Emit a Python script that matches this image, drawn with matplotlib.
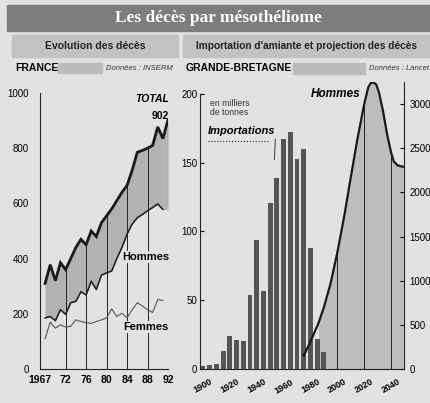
import numpy as np
import matplotlib.pyplot as plt
from matplotlib.patches import Rectangle

# France (INSERM): deaths per year
fr_years = np.arange(1968, 1993)
fr_total = [310, 378, 320, 385, 360, 400, 440, 470, 450, 500, 480, 530, 555,
            580, 610, 640, 665, 720, 785, 792, 800, 810, 877, 835, 902]
sex_years = np.arange(1968, 1992)
fr_hommes = [185, 190, 175, 215, 198, 240, 245, 280, 268, 318, 288, 340, 348,
             355, 400, 440, 488, 525, 548, 560, 573, 585, 598, 578]
fr_femmes = [110, 170, 148, 160, 152, 155, 178, 172, 168, 165, 172, 178, 185,
             218, 190, 202, 185, 215, 240, 228, 215, 205, 252, 248]
fr_ticks = [1967, 1972, 1976, 1980, 1984, 1988, 1992]
fr_ticklabels = ["1967", "72", "76", "80", "84", "88", "92"]
fr_yticks = [0, 200, 400, 600, 800, 1000]

# Great Britain (Lancet): asbestos imports (thousand tonnes) and projected male deaths
imp_years = np.arange(1900, 1995, 5)
imp_tonnes = [2, 3, 3.5, 13, 24, 21, 20, 54, 94, 57, 121, 139, 167, 172, 153,
              160, 88, 22, 12]
proj_years = [1975, 1980, 1986, 1990, 1995, 2000, 2005, 2010, 2015, 2020, 2023,
              2025, 2027, 2029, 2031, 2034, 2037, 2040, 2042, 2045, 2049]
proj_hommes = [150, 310, 520, 700, 970, 1320, 1720, 2170, 2610, 3000, 3190,
               3240, 3245, 3220, 3130, 2920, 2660, 2450, 2350, 2305, 2290]
gb_xticks = [1900, 1920, 1940, 1960, 1980, 2000, 2020, 2040]
gb_yticks = [0, 50, 100, 150, 200]
gb_y2ticks = [0, 500, 1000, 1500, 2000, 2500, 3000]

BG = "#e2e2e2"
SANS = ["Liberation Sans", "DejaVu Sans"]
W, H = 430, 403


def fx(x):
    return x / W


def fy(y):
    return 1 - y / H


fig = plt.figure(figsize=(4.3, 4.03), dpi=100, facecolor=BG)

# header bands
fig.patches.append(Rectangle((fx(7), fy(31)), fx(423), 26 / H, transform=fig.transFigure,
                             color="#7d7d7d", zorder=0))
fig.patches.append(Rectangle((fx(12), fy(57)), fx(166), 22 / H, transform=fig.transFigure,
                             color="#c2c2c2", zorder=0))
fig.patches.append(Rectangle((fx(183), fy(57)), fx(247), 22 / H, transform=fig.transFigure,
                             color="#c2c2c2", zorder=0))
fig.patches.append(Rectangle((fx(58), fy(73)), fx(44), 10 / H, transform=fig.transFigure,
                             color="#bcbcbc", zorder=0))
fig.patches.append(Rectangle((fx(293), fy(74)), fx(72), 11 / H, transform=fig.transFigure,
                             color="#bcbcbc", zorder=0))

fig.text(fx(218), fy(18), "Les décès par mésothéliome", color="white", fontsize=12.5,
         fontweight="bold", family=["Liberation Serif", "DejaVu Serif"], ha="center", va="center")
fig.text(fx(95), fy(46), "Evolution des décès", fontsize=7.5, fontweight="bold",
         family=SANS, ha="center", va="center", color="#222222")
fig.text(fx(307), fy(46), "Importation d'amiante et projection des décès", fontsize=7.3,
         fontweight="bold", family=SANS, ha="center", va="center", color="#222222")
fig.text(fx(15), fy(68), "FRANCE", fontsize=7.5, fontweight="bold", family=SANS,
         ha="left", va="center")
fig.text(fx(173), fy(68), "Données : INSERM", fontsize=5.5, style="italic", family=SANS,
         ha="right", va="center", color="#333333")
fig.text(fx(186), fy(68), "GRANDE-BRETAGNE", fontsize=7.5, fontweight="bold", family=SANS,
         ha="left", va="center")
fig.text(fx(429), fy(68), "Données : Lancet", fontsize=5.5, style="italic", family=SANS,
         ha="right", va="center", color="#333333")

# ---- France ----
ax = fig.add_axes([fx(40), fy(369), 128 / W, (369 - 93) / H])
ax.set_facecolor("none")
ax.set_xlim(1967, 1992)
ax.set_ylim(0, 1000)
ax.fill_between(sex_years, fr_total[:len(sex_years)], fr_hommes, color="#b2b2b2", lw=0, zorder=1)
ax.fill_between(fr_years[-2:], fr_total[-2:], fr_hommes[-1], color="#b2b2b2", lw=0, zorder=1)
ax.vlines(fr_ticks[1:], 0, np.interp(fr_ticks[1:], fr_years, fr_total), color="#222222",
          lw=0.7, zorder=2)
ax.plot(fr_years, fr_total, color="#1a1a1a", lw=2.0, zorder=4, solid_joinstyle="miter")
ax.plot(sex_years, fr_hommes, color="#1a1a1a", lw=1.1, zorder=4)
ax.plot(sex_years, fr_femmes, color="#555555", lw=0.8, zorder=4)
for s in ["top", "right"]:
    ax.spines[s].set_visible(False)
ax.spines["left"].set_color("#222222")
ax.spines["bottom"].set_color("#222222")
ax.set_xticks(fr_ticks)
ax.set_xticklabels(fr_ticklabels, fontsize=7.5, fontweight="bold", family=SANS)
ax.set_yticks(fr_yticks)
ax.set_yticklabels([str(v) for v in fr_yticks], fontsize=7, family=SANS)
ax.tick_params(axis="both", length=0)
ax.tick_params(axis="x", pad=4)
ax.tick_params(axis="y", pad=8)

ax.text(1992.2, 978, "TOTAL", fontsize=7.5, fontweight="bold", style="italic", family=SANS,
        ha="right", va="center", clip_on=False)
ax.text(1992.2, 917, str(fr_total[-1]), fontsize=7.5, fontweight="bold", family=SANS,
        ha="right", va="center", clip_on=False)
ax.text(1987.6, 406, "Hommes", fontsize=8, fontweight="bold", family=SANS, ha="center",
        va="center", zorder=5, bbox=dict(facecolor=BG, edgecolor="none", pad=0.6))
ax.text(1987.7, 152, "Femmes", fontsize=8, fontweight="bold", family=SANS, ha="center",
        va="center", zorder=5, bbox=dict(facecolor=BG, edgecolor="none", pad=0.6))

# ---- Great Britain ----
gx = fig.add_axes([fx(200), fy(369), 204 / W, (369 - 82) / H])
gx.set_facecolor("none")
gx.set_xlim(1897.8, 2049.6)
gx.set_ylim(0, 208.7)
g2 = gx.twinx()
g2.set_ylim(0, 3250)

# projected deaths area sits behind the import bars
sel = np.array(proj_years) >= 1986
gx.fill_between(np.array(proj_years)[sel], np.array(proj_hommes)[sel], 0, color="#bdbdbd",
                lw=0, zorder=1, transform=g2.transData)
gx.bar(imp_years, imp_tonnes, width=3.6, color="#555555", zorder=3)
for s in ["top", "right"]:
    gx.spines[s].set_visible(False)
gx.spines["left"].set_bounds(0, 200)
gx.spines["left"].set_color("#222222")
gx.spines["bottom"].set_color("#222222")
gx.set_yticks(gb_yticks)
gx.set_yticklabels([str(v) for v in gb_yticks], fontsize=7, family=SANS)
gx.tick_params(axis="y", direction="in", length=3, pad=2)
gx.set_xticks(gb_xticks)
gx.set_xticklabels([str(v) for v in gb_xticks], fontsize=6.5, fontweight="bold",
                   family=SANS, rotation=30, ha="center")
gx.tick_params(axis="x", length=0, pad=6)

gx.text(1905.3, 190, "en milliers\nde tonnes", fontsize=6.2, family=SANS, ha="left",
        va="center", linespacing=1.0, color="#333333")
gx.annotate("Importations", xy=(1953.2, 152), xytext=(1903.7, 173), fontsize=8,
            fontweight="bold", style="italic", family=SANS, ha="left", va="center",
            arrowprops=dict(arrowstyle="-", lw=0.6, color="#222222",
                            shrinkA=0, shrinkB=0, relpos=(1.0, 0.0)))
gx.plot([1903.7, 1949.9], [166, 166], ls=":", lw=0.8, color="#222222")

g2.vlines([2000, 2020, 2040], 0, np.interp([2000, 2020, 2040], proj_years, proj_hommes),
          color="#222222", lw=0.7, zorder=2)
g2.plot(proj_years, proj_hommes, color="#1a1a1a", lw=1.6, zorder=5)
for s in ["top", "left", "bottom"]:
    g2.spines[s].set_visible(False)
g2.spines["right"].set_color("#222222")
g2.set_yticks(gb_y2ticks)
g2.set_yticklabels([str(v) for v in gb_y2ticks], fontsize=7, family=SANS)
g2.tick_params(axis="y", direction="in", length=3, pad=4)
g2.text(1999, 3114, "Hommes", fontsize=8.5, fontweight="bold", style="italic", family=SANS,
        ha="center", va="center")

fig.savefig("out.png", dpi=100, facecolor=BG)
